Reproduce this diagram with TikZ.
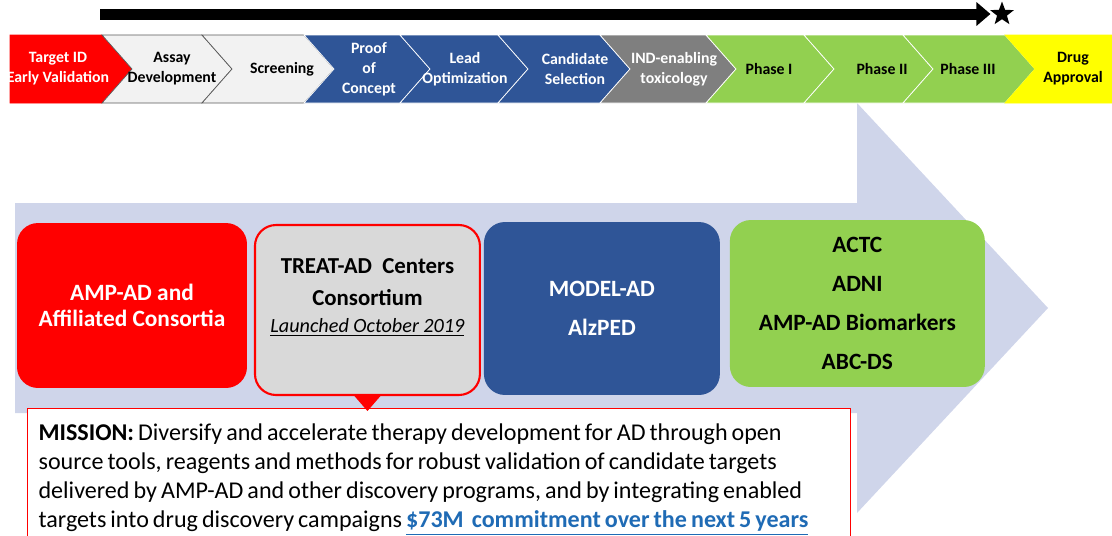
\documentclass[tikz,border=0pt]{standalone}
\usepackage{fontspec}
\setmainfont{Carlito}
\usetikzlibrary{shapes.geometric, arrows.meta, positioning}
\definecolor{adred}{HTML}{FF0000}
\definecolor{adblue}{HTML}{2F5597}
\definecolor{adgray}{HTML}{7F7F7F}
\definecolor{adgreen}{HTML}{92D050}
\definecolor{adyellow}{HTML}{FFFF00}
\definecolor{adlight}{HTML}{F2F2F2}
\definecolor{adarrow}{HTML}{CFD5EA}
\definecolor{adbox}{HTML}{D9D9D9}
\definecolor{adlink}{HTML}{1F6BB5}
\tikzstyle{stage} = [align=center, inner sep=0pt,
font=\bfseries\fontsize{9}{11.4}\selectfont]
\tikzstyle{bar} = [line width=0.22cm, -{Triangle[length=0.28cm,width=0.46cm]}]

\begin{document}
\begin{tikzpicture}[x=0.02cm, y=-0.02cm, node distance=4.7cm]
                    \useasboundingbox (0,0) rectangle (1112,535);
                    % Define styles for boxes
                    \tikzstyle{block} = [rectangle, rounded corners=0.42cm, align=center, text centered, font=\bfseries\fontsize{13.3}{22.2}\selectfont]
                    \tikzstyle{treat_block} = [block, fill=adbox, draw=adred, line width=1.2pt]  % callout box
                    \tikzstyle{mission} = [rectangle, draw=adred, line width=0.7pt, fill=white, align=left, text width=16.02cm, inner xsep=0.22cm, inner ysep=0.3cm, font=\fontsize{13.7}{16.6}\selectfont]

                    % Big background arrow
                    \fill[adarrow] (15,203) -- (857,203) -- (857,103) -- (1048,308) -- (857,513) -- (857,413) -- (15,413) -- cycle;

                    % Pipeline stages
                    \def\stages{10/102/0/30/adred/white/adred/58/{Target ID\\Early Validation},
                      102/202/30/30/adlight/black/black!65/172/{Assay\\Development},
                      202/304/30/30/adlight/black/black!65/282/{Screening},
                      304/400/30/30/adblue/white/white/369/{Proof\\of\\Concept},
                      400/498/30/30/adblue/white/white/465/{Lead\\Optimization},
                      498/600/30/30/adblue/white/white/575/{Candidate\\Selection},
                      600/706/30/30/adgray/white/white/674/{IND-enabling\\toxicology},
                      706/804/30/30/adgreen/black/white/769/{Phase I},
                      804/903/30/30/adgreen/black/white/882/{Phase II},
                      903/1005/30/30/adgreen/black/white/968/{Phase III},
                      1005/1112/30/0/adyellow/black/adyellow/1073/{Drug\\Approval}}
                    \foreach \bl/\br/\dl/\dr/\col/\tcol/\lcol/\tx/\txt in \stages
                      \filldraw[fill=\col, draw=\lcol, line width=0.4pt] (\bl,35) -- (\br,35) -- (\br+\dr,69) -- (\br,103) -- (\bl,103) -- (\bl+\dl,69) -- cycle;
                    \foreach \bl/\br/\dl/\dr/\col/\tcol/\lcol/\tx/\txt [count=\i] in \stages
                      \node[stage, text=\tcol] (stage\i) at (\tx,69) {\txt};

                    % Top arrow
                    \coordinate (start) at (100,14);
                    \node[star, star points=5, star point ratio=2.4, fill=black, inner sep=0pt, minimum size=0.5cm] (goal) at (1002,14) {};
                    \draw[bar, shorten >=0.08cm] (start) -- (goal);

                    % Place nodes
                    \node[block, fill=adred, text=white, minimum width=4.6cm, minimum height=3.3cm, font=\bfseries\fontsize{13.3}{14.8}\selectfont] (ampad) at (132,305.5) {AMP-AD and\\Affiliated Consortia};
                    \node[treat_block, right of=ampad, node distance=4.71cm, yshift=-0.09cm, minimum width=4.5cm, minimum height=3.4cm] (treat) {};
                    \node[align=center, font=\bfseries\fontsize{13}{18.2}\selectfont] (treat_text) at ([yshift=0.25cm]treat.center) {TREAT-AD\ \ Centers\\Consortium\\[-3pt]{\mdseries\itshape\fontsize{11.5}{14}\selectfont\underline{Launched October 2019}}};
                    \node[block, fill=adblue, text=white, right of=treat, node distance=4.69cm, yshift=0.03cm, minimum width=4.72cm, minimum height=3.46cm] (model) {MODEL-AD\\AlzPED};
                    \node[block, fill=adgreen, right of=model, node distance=5.11cm, yshift=0.1cm, minimum width=5.1cm, minimum height=3.34cm] (trials) {ACTC\\ADNI\\AMP-AD Biomarkers\\ABC-DS};

                    \node[mission, anchor=north west] (goal_text) at (27,408) {\spaceskip=2.3pt plus 1pt minus 0.5pt\relax
                      \textbf{MISSION:} Diversify and accelerate therapy development for AD through open\\
                      source tools, reagents and methods for robust validation of candidate targets\\
                      delivered by AMP-AD and other discovery programs, and by integrating enabled\\
                      targets into drug discovery campaigns \textcolor{adlink}{\textbf{\underline{\$73M\ \ commitment over the next 5 years}}}};

                    % Callout pointer
                    \fill[adred] ([xshift=-0.26cm]treat.south) -- ([xshift=0.26cm]treat.south) -- ([yshift=-0.3cm]treat.south) -- cycle;
                \end{tikzpicture}
\end{document}
